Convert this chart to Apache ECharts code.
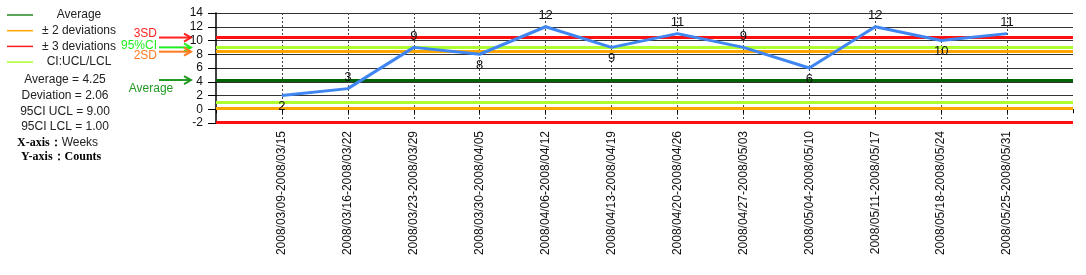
<!DOCTYPE html>
<html>
<head>
<meta charset="utf-8">
<script src="https://cdn.jsdelivr.net/npm/echarts@6/dist/echarts.min.js"></script>
<style>
html,body{margin:0;padding:0;background:#fff;}
#chart{width:1086px;height:275px;}
</style>
</head>
<body>
<div id="chart"></div>
<script>
// ---- data ----
const categories = [
  '2008/03/09-2008/03/15','2008/03/16-2008/03/22','2008/03/23-2008/03/29',
  '2008/03/30-2008/04/05','2008/04/06-2008/04/12','2008/04/13-2008/04/19',
  '2008/04/20-2008/04/26','2008/04/27-2008/05/03','2008/05/04-2008/05/10',
  '2008/05/11-2008/05/17','2008/05/18-2008/05/24','2008/05/25-2008/05/31'
];
const counts = [2, 3, 9, 8, 12, 9, 11, 9, 6, 12, 10, 11];
const yTicks = [-2, 0, 2, 4, 6, 8, 10, 12, 14];
const average = 4.25;
const deviation = 2.06;
const ciUCL = 9.00;
const ciLCL = 1.00;

// ---- styles ----
const labelSides = ['bottom','top','top','bottom','top','bottom','top','top','bottom','top','bottom','top'];
const C_AVG = '#006400', C_2SD = '#FFA500', C_3SD = '#FF1010', C_CI = '#ADFF2F';
const FONT = '"Liberation Sans", Arial, sans-serif';

const axisCats = [''].concat(categories).concat(['']);
const lineData = ['-'].concat(counts.map((v, i) => ({
  value: v,
  label: { position: labelSides[i] }
})));

const sd2 = [average + 2 * deviation, average - 2 * deviation];
const sd3 = [average + 3 * deviation, average - 3 * deviation];

function refSeries(name, color, values, z) {
  return {
    name: name, type: 'line', data: [], z: z,
    markLine: {
      silent: true, symbol: 'none', animation: false,
      label: { show: false },
      lineStyle: { color: color, width: 3, type: 'solid' },
      data: values.map(v => ({ yAxis: v }))
    }
  };
}

const chart = echarts.init(document.getElementById('chart'), null, { renderer: 'canvas' });

const option = {
  animation: false,
  backgroundColor: '#fff',
  grid: { left: 216, right: 13, top: 13, bottom: 152, containLabel: false },
  xAxis: {
    type: 'category', data: axisCats, boundaryGap: false,
    axisLine: { lineStyle: { color: '#000', width: 1 } },
    axisTick: { show: true, interval: 0, length: 4, lineStyle: { color: '#000' } },
    axisLabel: { interval: 0, rotate: 90, margin: 8, fontFamily: FONT, fontSize: 12, color: '#111' },
    splitLine: {
      show: true,
      interval: (idx) => idx >= 1 && idx <= categories.length,
      lineStyle: { color: '#444', type: [2, 2], width: 1 }
    }
  },
  yAxis: {
    type: 'value', min: yTicks[0], max: yTicks[yTicks.length - 1], interval: 2,
    axisLine: { show: true, lineStyle: { color: '#000', width: 1.5 } },
    axisTick: { show: true, length: 8, lineStyle: { color: '#000' } },
    axisLabel: { margin: 13, fontFamily: FONT, fontSize: 12, color: '#111' },
    splitLine: { show: true, lineStyle: { color: '#333', width: 1.2 } }
  },
  series: [
    refSeries('± 3 deviations', C_3SD, sd3, 2),
    refSeries('± 2 deviations', C_2SD, sd2, 2),
    refSeries('CI:UCL/LCL', C_CI, [ciUCL, ciLCL], 2),
    refSeries('Average', C_AVG, [average], 2),
    {
      name: 'Counts', type: 'line', data: lineData, z: 5,
      symbol: 'circle', symbolSize: 1, showSymbol: true,
      itemStyle: { color: '#3F86F2' },
      lineStyle: { color: '#3F86F2', width: 3 },
      label: { show: true, fontFamily: FONT, fontSize: 13, color: '#111', distance: 4 }
    }
  ]
};
chart.setOption(option);

// ---- legend / annotations ----
function yPix(v) { return chart.convertToPixel({ yAxisIndex: 0 }, v); }

const legendItems = [
  { name: 'Average', color: '#228B22' },
  { name: '± 2 deviations', color: C_2SD },
  { name: '± 3 deviations', color: '#FF2020' },
  { name: 'CI:UCL/LCL', color: C_CI }
];
const g = [];
legendItems.forEach((it, i) => {
  const y = 15 + i * 15.7;
  g.push({ type: 'line', shape: { x1: 7, y1: y, x2: 33, y2: y }, style: { stroke: it.color, lineWidth: 1.5 } });
  g.push({ type: 'text', x: 79, y: y, style: { text: it.name, fill: '#222', font: '12px ' + FONT, align: 'center', verticalAlign: 'middle' } });
});
const stats = [
  'Average = ' + average.toFixed(2),
  'Deviation = ' + deviation.toFixed(2),
  '95CI UCL = ' + ciUCL.toFixed(2),
  '95CI LCL = ' + ciLCL.toFixed(2)
];
stats.forEach((s, i) => {
  g.push({ type: 'text', x: 65, y: 80 + i * 15.7, style: { text: s, fill: '#222', font: '12px ' + FONT, align: 'center', verticalAlign: 'middle' } });
});
g.push({ type: 'text', x: 17, y: 143, style: {
  text: '{b|X-axis：}{n|Weeks}', verticalAlign: 'middle',
  rich: { b: { fontFamily: '"Liberation Serif", serif', fontWeight: 'bold', fontSize: 12, fill: '#000' },
          n: { fontFamily: FONT, fontSize: 12, fill: '#222' } } } });
g.push({ type: 'text', x: 21, y: 157, style: {
  text: 'Y-axis：Counts', fill: '#000', verticalAlign: 'middle',
  font: 'bold 12px "Liberation Serif", serif' } });

function arrow(y, color, label, lx, ly, align) {
  g.push({ type: 'line', shape: { x1: 159, y1: y, x2: 191, y2: y }, style: { stroke: color, lineWidth: 2 } });
  g.push({ type: 'polyline', shape: { points: [[184, y - 4], [191, y], [184, y + 4]] }, style: { stroke: color, lineWidth: 2, fill: null } });
  g.push({ type: 'text', x: lx, y: ly, style: { text: label, fill: color, font: '12px ' + FONT, align: align, verticalAlign: 'middle' } });
}
const y3 = yPix(sd3[0]), yci = yPix(ciUCL), y2 = yPix(sd2[0]), ya = yPix(average);
arrow(y3, '#FF2020', '3SD', 157, y3 - 4, 'right');
arrow(yci, '#22EE22', '95%CI', 157, yci - 2, 'right');
arrow(y2, '#FF7A20', '2SD', 157, y2 + 4, 'right');
arrow(ya, '#229922', 'Average', 151, ya + 9, 'center');

chart.setOption({ graphic: g });
</script>
</body>
</html>
